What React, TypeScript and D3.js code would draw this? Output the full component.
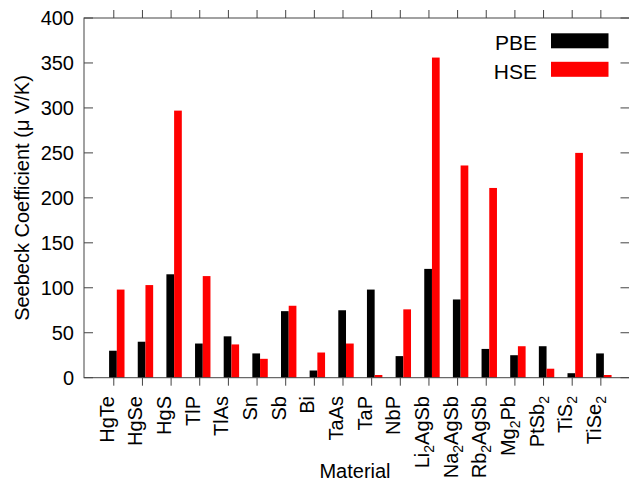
import React from "react";
import * as d3 from "d3";

const materials = [
  "HgTe", "HgSe", "HgS", "TlP", "TlAs", "Sn", "Sb", "Bi", "TaAs", "TaP",
  "NbP", "Li2AgSb", "Na2AgSb", "Rb2AgSb", "Mg2Pb", "PtSb2", "TiS2", "TiSe2",
];
const pbe = [30, 40, 115, 38, 46, 27, 74, 8, 75, 98, 24, 121, 87, 32, 25, 35, 5, 27];
const hse = [98, 103, 297, 113, 37, 21, 80, 28, 38, 3, 76, 356, 236, 211, 35, 10, 250, 3];
const yTicks = [0, 50, 100, 150, 200, 250, 300, 350, 400];

const W = 629;
const H = 483;
const left = 84;
const right = 629.5;
const top = 18;
const bottom = 377.7;
const font = "'Liberation Sans', Arial, sans-serif";
const axisColor = "#444";

// split "Li2AgSb" into normal and subscript pieces
function pieces(name: string) {
  return name.split(/(\d+)/).filter((s) => s.length > 0).map((s) => ({ s, sub: /^\d+$/.test(s) }));
}

export default function App() {
  const x = d3.scaleLinear().domain([-1.04, 18]).range([left, right]);
  const y = d3.scaleLinear().domain([0, 400]).range([bottom, top]);
  const unit = x(1) - x(0);
  const bw = 0.269 * unit;
  const blackStart = -0.164 * unit;

  return (
    <svg
      width={W}
      height={H}
      style={{ position: "absolute", left: 0, top: 0, background: "#fff" }}
      fontFamily={font}
    >
      {materials.map((m, i) => (
        <g key={m}>
          <rect x={x(i) + blackStart} y={y(pbe[i])} width={bw} height={y(0) - y(pbe[i])} fill="#000" />
          <rect x={x(i) + blackStart + bw} y={y(hse[i])} width={bw} height={y(0) - y(hse[i])} fill="#ff0000" />
        </g>
      ))}

      {/* border */}
      <rect x={left} y={top} width={right - left} height={bottom - top} fill="none" stroke={axisColor} strokeWidth={1} />

      {/* y ticks, mirrored, inward */}
      {yTicks.map((t) => (
        <g key={t}>
          <line x1={left} x2={left + 9} y1={y(t)} y2={y(t)} stroke={axisColor} />
          <line x1={right - 9} x2={right} y1={y(t)} y2={y(t)} stroke={axisColor} />
          <text x={74} y={y(t)} dy="0.35em" textAnchor="end" fontSize={20} fill="#000">
            {t}
          </text>
        </g>
      ))}

      {/* x ticks, mirrored, outward */}
      {materials.map((m, i) => {
        const ps = pieces(m);
        return (
          <g key={m}>
            <line x1={x(i)} x2={x(i)} y1={bottom} y2={bottom + 8} stroke={axisColor} />
            <line x1={x(i)} x2={x(i)} y1={top} y2={top - 8} stroke={axisColor} />
            <text
              transform={`translate(${x(i)},396) rotate(-90)`}
              dy="0.38em"
              textAnchor="end"
              fontSize={20}
              fill="#000"
            >
              {ps.map((p, k) =>
                p.sub ? (
                  <tspan key={k} fontSize={14} dy={5}>
                    {p.s}
                  </tspan>
                ) : (
                  <tspan key={k} dy={k > 0 && ps[k - 1].sub ? -5 : 0}>
                    {p.s}
                  </tspan>
                )
              )}
            </text>
          </g>
        );
      })}

      {/* axis titles */}
      <text transform={`translate(29,198) rotate(-90)`} textAnchor="middle" fontSize={20} fill="#000">
        Seebeck Coefficient (μ V/K)
      </text>
      <text x={355} y={478} textAnchor="middle" fontSize={20} fill="#000">
        Material
      </text>

      {/* legend */}
      <text x={537} y={50} textAnchor="end" fontSize={21} fill="#000">PBE</text>
      <rect x={551} y={33.3} width={57.5} height={15} fill="#000" />
      <text x={537} y={79} textAnchor="end" fontSize={21} fill="#000">HSE</text>
      <rect x={551} y={61.8} width={57.5} height={15} fill="#ff0000" />
    </svg>
  );
}
